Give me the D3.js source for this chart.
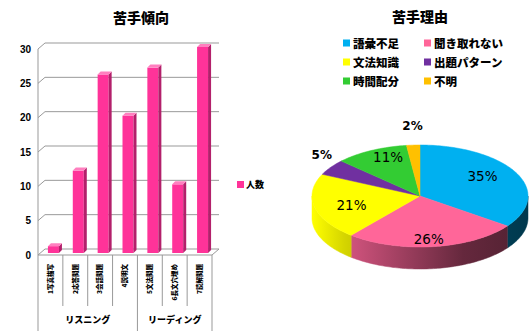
<!DOCTYPE html>
<html><head><meta charset="utf-8">
<script src="https://cdn.jsdelivr.net/npm/d3@7"></script>
<style>body{margin:0;background:#fff}svg{display:block}</style>
</head><body><svg id="c" width="530" height="334"></svg>
<script>
// ---- data ----
const categories = ["1写真描写","2応答問題","3会話問題","4説明文","5文法問題","6長文穴埋め","7読解問題"];
const counts = [1, 12, 26, 20, 27, 10, 30];
const groups = ["リスニング", "リーディング"];
const groupSizes = [4, 3];
const yTicks = [0, 5, 10, 15, 20, 25, 30];
const seriesName = "人数";
const barTitle = "苦手傾向";

const reasons = ["語彙不足","聞き取れない","文法知識","出題パターン","時間配分","不明"];
const shares = [35, 26, 21, 5, 11, 2];
const reasonColors = ["#00b0f0","#ff6699","#ffff00","#7030a0","#33cc33","#ffc000"];
const pieTitle = "苦手理由";

const JP = "'Noto Sans CJK JP','Noto Sans',sans-serif";
const svg = d3.select("#c");
const defs = svg.append("defs");

// ================= 3D column chart =================
const X0 = 38, X1 = 212, DX = 7, DY = -6;
const x = d3.scaleBand().domain(categories).range([X0, X1]);
const y = d3.scaleLinear().domain([0, 30]).range([255, 49]);
const bar = svg.append("g");

bar.append("text").attr("x", 141).attr("y", 23).attr("text-anchor", "middle")
  .attr("font-family", JP).attr("font-weight", 900).attr("font-size", 14).text(barTitle);

// walls: gridlines on back wall, joined to the front value axis
const grid = bar.append("g").attr("fill", "none").attr("stroke", "#999").attr("stroke-width", 1);
yTicks.forEach(t => {
  const p = d3.path();
  p.moveTo(X0, y(t)); p.lineTo(X0 + DX, y(t) + DY); p.lineTo(X1 + DX, y(t) + DY);
  grid.append("path").attr("d", p.toString());
});
grid.append("line").attr("x1", X0).attr("x2", X0).attr("y1", y(30)).attr("y2", y(0));
grid.append("line").attr("x1", X0).attr("x2", X1).attr("y1", y(0)).attr("y2", y(0));
grid.append("line").attr("x1", X1).attr("x2", X1 + DX).attr("y1", y(0)).attr("y2", y(0) + DY);

bar.append("g").selectAll("text").data(yTicks).join("text")
  .attr("x", 31).attr("y", d => y(d) + 3.5).attr("text-anchor", "end")
  .attr("font-family", "Liberation Sans, Arial, sans-serif").attr("font-weight", 700).attr("font-size", 10)
  .text(d => d);

// bars
const bw = 11, bd = 3, bo = 2;
const cols = bar.append("g").selectAll("g").data(counts).join("g");
cols.each(function (v, i) {
  const g = d3.select(this);
  const bx = x(categories[i]) + x.bandwidth() / 2 - 2.5;
  const top = y(v) - bo, bot = y(0) - bo;
  g.append("rect").attr("x", bx).attr("y", top).attr("width", bw).attr("height", bot - top).attr("fill", "#ff3399");
  g.append("path").attr("fill", "#b3206b")
    .attr("d", `M${bx + bw},${top}L${bx + bw + bd},${top - bd}L${bx + bw + bd},${bot - bd}L${bx + bw},${bot}Z`);
  g.append("path").attr("fill", "#ff7fbf")
    .attr("d", `M${bx},${top}L${bx + bd},${top - bd}L${bx + bw + bd},${top - bd}L${bx + bw},${top}Z`);
});

// category axis with grouped labels
const edges = d3.range(categories.length + 1).map(i => X0 + i * x.bandwidth());
const groupEdges = [0];
groupSizes.forEach(s => groupEdges.push(groupEdges[groupEdges.length - 1] + s));
bar.append("g").attr("stroke", "#999").selectAll("line").data(edges).join("line")
  .attr("x1", d => d).attr("x2", d => d).attr("y1", y(0))
  .attr("y2", (d, i) => groupEdges.includes(i) ? 331 : 306);

bar.append("g").selectAll("text").data(categories).join("text")
  .attr("transform", d => `translate(${x(d) + x.bandwidth() / 2},264) rotate(-90)`)
  .attr("text-anchor", "end").attr("dy", "0.35em")
  .attr("font-family", JP).attr("font-weight", 900).attr("font-size", 6.5)
  .text(d => d);

bar.append("g").selectAll("text").data(groups).join("text")
  .attr("x", (d, i) => (edges[groupEdges[i]] + edges[groupEdges[i + 1]]) / 2).attr("y", 323)
  .attr("text-anchor", "middle").attr("font-family", JP).attr("font-weight", 900).attr("font-size", 9)
  .text(d => d);

// series legend
bar.append("rect").attr("x", 237).attr("y", 181).attr("width", 7).attr("height", 7).attr("fill", "#ff3399");
bar.append("text").attr("x", 246).attr("y", 188).attr("font-family", JP).attr("font-weight", 900)
  .attr("font-size", 9).text(seriesName);

// ================= 3D pie chart =================
const pieG = svg.append("g");
pieG.append("text").attr("x", 420).attr("y", 22).attr("text-anchor", "middle")
  .attr("font-family", JP).attr("font-weight", 900).attr("font-size", 14).text(pieTitle);

// legend, two columns
const lg = pieG.append("g").selectAll("g").data(reasons).join("g")
  .attr("transform", (d, i) => `translate(${[343, 424][i % 2]},${43 + Math.floor(i / 2) * 19})`);
lg.append("rect").attr("x", 0).attr("y", -3.5).attr("width", 7).attr("height", 7).attr("fill", (d, i) => reasonColors[i]);
lg.append("text").attr("x", 10).attr("y", 4.5).attr("font-family", JP).attr("font-weight", 900)
  .attr("font-size", 11.5).text(d => d);

const cx = 420, cy = 196, rx = 108, ry = 51, depth = 22;
const pt = (a, k = 1, dz = 0) => [cx + rx * k * Math.sin(a), cy - ry * k * Math.cos(a) + dz];
const arcs = d3.pie().sort(null).startAngle(0).endAngle(2 * Math.PI)(shares);

function arcPts(a0, a1, dz) {
  const n = Math.max(2, Math.ceil((a1 - a0) / 0.02));
  return d3.range(n + 1).map(i => pt(a0 + (a1 - a0) * i / n, 1, dz));
}

// side gradients
arcs.forEach((a, i) => {
  const c = d3.color(reasonColors[i]);
  const gr = defs.append("linearGradient").attr("id", "side" + i)
    .attr("gradientUnits", "userSpaceOnUse").attr("x1", cx - rx).attr("x2", cx + rx).attr("y1", 0).attr("y2", 0);
  [[0, 0], [0.15, 0.5], [0.7, 2.6], [1, 3.2]].forEach(([o, k]) =>
    gr.append("stop").attr("offset", o).attr("stop-color", c.darker(k).formatHex()));
});

// outer walls on the visible (front) half
const sides = pieG.append("g");
arcs.forEach((a, i) => {
  const s = Math.max(a.startAngle, Math.PI / 2), e = Math.min(a.endAngle, 3 * Math.PI / 2);
  if (e <= s) return;
  const ptsTop = arcPts(s, e, 0), ptsBot = arcPts(s, e, depth).reverse();
  sides.append("path").attr("d", d3.line()(ptsTop.concat(ptsBot)) + "Z")
    .attr("fill", `url(#side${i})`).attr("stroke", `url(#side${i})`).attr("stroke-width", 0.5);
});

// top faces
const tops = pieG.append("g");
arcs.forEach((a, i) => {
  const pts = [[cx, cy]].concat(arcPts(a.startAngle, a.endAngle, 0));
  tops.append("path").attr("d", d3.line()(pts) + "Z")
    .attr("fill", reasonColors[i]).attr("stroke", reasonColors[i]).attr("stroke-width", 0.5);
});

// percentage labels
const labels = pieG.append("g");
arcs.forEach((a, i) => {
  const m = (a.startAngle + a.endAngle) / 2;
  const small = shares[i] < 8;
  const p = small
    ? [cx + rx * 1.1 * Math.sin(m), cy - ry * 1.3 * Math.cos(m) - 4]
    : [cx + rx * 0.65 * Math.sin(m), cy - ry * 0.85 * Math.cos(m)];
  labels.append("text").attr("x", p[0]).attr("y", p[1]).attr("dy", "0.35em").attr("text-anchor", "middle")
    .attr("font-family", "DejaVu Sans, sans-serif")
    .attr("font-weight", small ? 700 : 400).attr("font-size", small ? 12 : 13.5)
    .text(shares[i] + "%");
});
</script>
</body></html>
